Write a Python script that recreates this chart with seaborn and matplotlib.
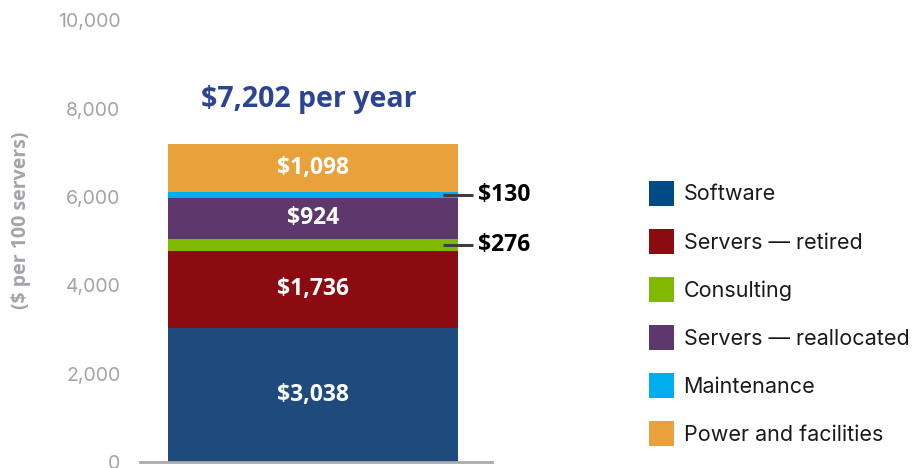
import matplotlib
matplotlib.use("Agg")
import matplotlib.pyplot as plt
import pandas as pd
import seaborn as sns
from matplotlib.patches import Patch

categories = [
    "Software",
    "Servers — retired",
    "Consulting",
    "Servers — reallocated",
    "Maintenance",
    "Power and facilities",
]
costs = [3038, 1736, 276, 924, 130, 1098]
total_label = "$7,202 per year"
y_ticks = [0, 2000, 4000, 6000, 8000, 10000]

bar_colors = ["#1f4a7c", "#8b0b10", "#7fba00", "#5e376d", "#00adef", "#e9a23b"]
legend_colors = ["#004a86", "#8b0b10", "#7fba00", "#5e376d", "#00adef", "#e9a23b"]

df = pd.DataFrame({"segment": categories, "cost": costs})
df["top"] = df["cost"].cumsum()
df["mid"] = df["top"] - df["cost"] / 2
df["x"] = "all"

sns.set_theme(style="white")
plt.rcParams["font.family"] = ["Open Sans", "DejaVu Sans"]
inter = ["Inter", "DejaVu Sans"]

fig = plt.figure(figsize=(9.14, 4.68), dpi=100)
ax = fig.add_axes([0.153, 0.0128, 0.385, 0.944])

# layered stacking: draw tallest cumulative first
for i in range(len(df) - 1, -1, -1):
    row = df.iloc[[i]]
    sns.barplot(data=row, x="x", y="top", color=bar_colors[i], width=0.824,
                saturation=1, ax=ax, linewidth=0)

ax.set_xlim(-0.492, 0.508)
ax.set_ylim(0, 10000)
ax.set_yticks(y_ticks)
ax.set_yticklabels([f"{t:,}" for t in y_ticks], color="#a3a4ab", fontsize=14,
                   family=inter)
ax.tick_params(axis="y", length=0, pad=14)
ax.set_xticks([])
ax.set_xlabel("")
ax.set_ylabel("($ per 100 servers)", color="#a3a4ab", fontsize=14,
              fontweight="bold")
ax.yaxis.set_label_coords(-0.31, 0.547)
for side in ["top", "right", "left"]:
    ax.spines[side].set_visible(False)
ax.spines["bottom"].set_color("#aaaaaa")
ax.spines["bottom"].set_linewidth(2)

for i, row in df.iterrows():
    if row["cost"] >= 500:
        ax.text(0, row["mid"], f"${row['cost']:,}", ha="center", va="center",
                color="white", fontsize=16.5, fontweight="bold")
    else:
        ax.plot([0.37, 0.455], [row["mid"], row["mid"]], color="#3a3d45",
                lw=2.2, solid_capstyle="butt", clip_on=False)
        ax.text(0.47, row["mid"], f"${row['cost']:,}", ha="left", va="center",
                color="black", fontsize=16.5, fontweight="bold")

ax.text(-0.012, 8200, total_label, ha="center", va="center", color="#2b4593",
        fontsize=20.5, fontweight="bold")

handles = [Patch(facecolor=c, edgecolor="none") for c in legend_colors]
leg = fig.legend(handles, categories, loc="center left",
                 bbox_to_anchor=(0.689, 0.330), frameon=False,
                 prop={"family": inter, "size": 15.5},
                 handlelength=1.15, handleheight=1.4, handletextpad=0.45,
                 labelspacing=1.08)
for t in leg.get_texts():
    t.set_color("#1a1a1a")

fig.savefig("out.png", dpi=100)
